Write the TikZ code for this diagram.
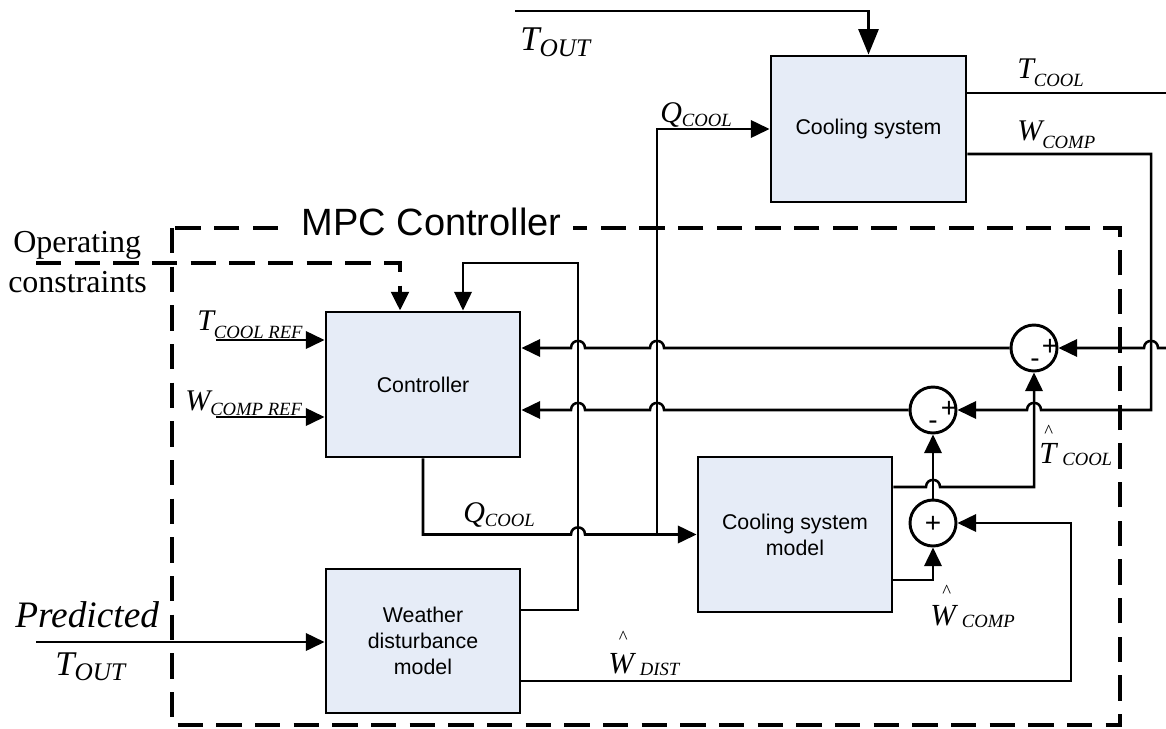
\documentclass[tikz,border=0pt]{standalone}
\usepackage{fontspec}
\setmainfont{Liberation Serif}
\newfontfamily\arialf{Liberation Sans}
\usetikzlibrary{arrows.meta}
\definecolor{boxfill}{RGB}{230,236,247}
\newcommand\hopL[2]{-- ({#1+7},#2) .. controls ({#1+7},{#2-9.5}) and ({#1-7},{#2-9.5}) .. ({#1-7},#2)}
\newcommand\hopR[2]{-- ({#1-7},#2) .. controls ({#1-7},{#2-9.5}) and ({#1+7},{#2-9.5}) .. ({#1+7},#2)}
\newcommand\hatc[2]{\makebox[0pt][l]{\hspace*{#2}\raisebox{#1}{\fontsize{14}{14}\selectfont\textasciicircum}}}
\tikzset{
  blk/.style={draw, line width=2.2pt, fill=boxfill, font=\arialf\fontsize{16}{19.5}\selectfont, align=center, inner sep=0pt},
  sumc/.style={draw, circle, line width=2.2pt, minimum size=34.5pt, inner sep=0pt},
  wire/.style={line width=1.9pt},
  arr/.style={wire, -{Triangle[length=14pt,width=13pt]}},
  bigarr/.style={wire, -{Triangle[length=19pt,width=15pt]}},
  dsh/.style={line width=3pt, dash pattern=on 19pt off 10pt},
  lbl/.style={inner sep=0pt, anchor=base west},
  sgn/.style={font=\arialf\fontsize{21}{21}\selectfont, inner sep=0pt}
}
\begin{document}
\begin{tikzpicture}[x=0.75pt,y=-0.75pt]
\useasboundingbox (0,0) rectangle (1166,728);

% blocks
\node[blk, minimum width=146.25pt, minimum height=109.5pt] (cs) at (868.5,129) {Cooling system};
\node[blk, minimum width=145.5pt, minimum height=108.75pt] (ctl) at (423,384.5) {Controller};
\node[blk, minimum width=145.5pt, minimum height=108pt] (wdm) at (423,641) {Weather\\disturbance\\model};
\node[blk, minimum width=145.5pt, minimum height=116.25pt] (csm) at (795,534.5) {Cooling system\\model};

% summing junctions
\node[sumc] (s1) at (1034,348) {};
\node[sumc] (s2) at (933,410) {};
\node[sumc] (s3) at (933,523) {};
\node[sgn] (s1p) at (1050,347) {+};
\node[sgn] (s1m) at (1035,363) {-};
\node[sgn] (s2p) at (949,409) {+};
\node[sgn] (s2m) at (933,425) {-};
\node[sgn] (s3p) at (933,524) {+};

% free ends
\coordinate (toutS) at (515,11);
\coordinate (opS) at (36,263);
\coordinate (predS) at (36,642);
\coordinate (trefS) at (216,340);
\coordinate (wrefS) at (216,417);
\coordinate (tcoolE) at (1166,93);
\coordinate (fbR) at (1166,348);
\coordinate (qj) at (657,534.5);

% MPC dashed frame
\draw[dsh] (172,228) rectangle (1120,725);
\node[font=\arialf\fontsize{28.5}{28.5}\selectfont, fill=white, inner xsep=9pt, inner ysep=2pt, anchor=base] (mpc) at (431.5,235) {MPC Controller};

% operating constraints (dashed)
\draw[dsh, -{Triangle[length=14pt,width=13pt]}] (opS) -| (ctl.north -| 400,0);

% outside temperature into cooling system
\draw[bigarr] (toutS) -| (cs.north);

% controller output Q_COOL
\draw[arr] (ctl.south) -- (ctl.south |- qj) \hopR{578}{534.5} -- (csm.west);
\draw[arr] (qj) |- (cs.west);

% weather model feedback into controller top
\draw[arr] ([yshift=23.25pt]wdm.east) -- (578,610) -- (578,263) -| (ctl.north -| 463,0);

% cooling system outputs
\draw[wire] ([yshift=27pt]cs.east) -- (tcoolE);
\draw[arr] ([yshift=-18.75pt]cs.east) -- (1151,154) -- (1151,410) \hopL{1034}{410} -- (s2.east);
\draw[arr] (fbR) \hopL{1151}{348} -- (s1.east);

% errors to controller
\draw[arr] (s1.west) \hopL{657}{348} \hopL{578}{348} -- (ctl.east |- s1.west);
\draw[arr] (s2.west) \hopL{657}{410} \hopL{578}{410} -- (ctl.east |- s2.west);

% model outputs
\draw[arr] ([yshift=35.625pt]csm.east) \hopR{933}{487} -- (1034,487) -- (s1.south);
\draw[arr] ([yshift=-34.125pt]csm.east) -- (933,580) -- (s3.south);
\draw[arr] (s3.north) -- (s2.south);
\draw[arr] ([yshift=-30pt]wdm.east) -- (1071,681) -- (1071,523) -- (s3.east);

% inputs
\draw[arr] (predS) -- (predS -| wdm.west);
\draw[arr] (trefS) -- (trefS -| ctl.west);
\draw[arr] (wrefS) -- (wrefS -| ctl.west);

% labels
\node[lbl] (lTout) at (520,50) {\fontsize{26}{26}\selectfont\itshape T\raisebox{-4.5pt}{\fontsize{19}{19}\selectfont OUT}};
\node[lbl] (lPred) at (15,627) {\fontsize{28}{28}\selectfont\itshape Predicted};
\node[lbl] (lPT) at (55,675) {\fontsize{26}{26}\selectfont\itshape T\raisebox{-3.75pt}{\fontsize{19}{19}\selectfont OUT}};
\node[lbl] (lOp) at (13,252) {\fontsize{24}{24}\selectfont Operating};
\node[lbl] (lCon) at (8,292) {\fontsize{24}{24}\selectfont constraints};
\node[lbl] (lTc) at (1017,78) {\fontsize{22.5}{22.5}\selectfont\itshape T\raisebox{-6pt}{\fontsize{14}{14}\selectfont COOL}};
\node[lbl] (lWc) at (1017,140) {\fontsize{22.5}{22.5}\selectfont\itshape W\raisebox{-6pt}{\fontsize{14}{14}\selectfont COMP}};
\node[lbl] (lQ1) at (660,122) {\fontsize{22.5}{22.5}\selectfont\itshape Q\raisebox{-3pt}{\fontsize{14}{14}\selectfont COOL}};
\node[lbl] (lQ2) at (463,522) {\fontsize{22.5}{22.5}\selectfont\itshape Q\raisebox{-3pt}{\fontsize{14}{14}\selectfont COOL}};
\node[lbl] (lTr) at (197,330) {\fontsize{22.5}{22.5}\selectfont\itshape T\raisebox{-6pt}{\fontsize{14}{14}\selectfont COOL REF}};
\node[lbl] (lWr) at (185,410) {\fontsize{22.5}{22.5}\selectfont\itshape W\raisebox{-4pt}{\fontsize{14}{14}\selectfont COMP REF}};
\node[lbl] (lTh) at (1039,463) {\hatc{19pt}{3.75pt}\fontsize{23}{23}\selectfont\itshape T\hspace{4.5pt}\raisebox{-1.5pt}{\fontsize{14}{14}\selectfont COOL}};
\node[lbl] (lWh) at (930,625) {\hatc{20.6pt}{9pt}\fontsize{23}{23}\selectfont\itshape W\hspace{4.5pt}\raisebox{-1.5pt}{\fontsize{14}{14}\selectfont COMP}};
\node[lbl] (lWd) at (608,673) {\hatc{22pt}{8pt}\fontsize{23}{23}\selectfont\itshape W\hspace{4.5pt}\raisebox{-1.5pt}{\fontsize{14}{14}\selectfont DIST}};
\end{tikzpicture}
\end{document}
